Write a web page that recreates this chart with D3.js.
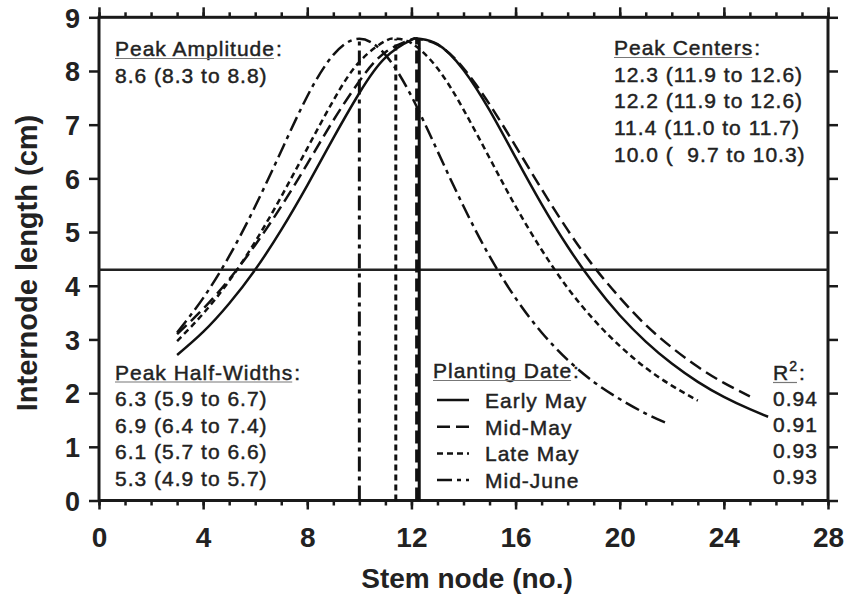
<!DOCTYPE html>
<html lang="en">
  <head>
    <meta charset="UTF-8" />
    <script src="https://cdn.jsdelivr.net/npm/d3@7"></script>
    <title>Internode length by stem node</title>
    <style>
      body { margin: 0; background: #fff; }
      text { font-family: "Liberation Sans", Arial, sans-serif; }
      .note { font-size: 21px; letter-spacing: 1px; fill: #222; stroke: #222; stroke-width: 0.45; white-space: pre; }
      .axis text { font-size: 27px; font-weight: bold; fill: #222; }
      .axis line { stroke: #1a1a1a; stroke-width: 2.5; }
    </style>
  </head>
  <body>
    <svg id="chart" width="856" height="596"></svg>

    <script>
      // series: [stem node, internode length]
      const earlyMay = [[3, 2.71], [4, 3.14], [5, 3.67], [6, 4.3], [7, 5.04], [8, 5.87], [9, 6.75], [10, 7.59],
        [11, 8.25], [12, 8.58], [12.3, 8.6], [13, 8.5], [14, 8.02], [15, 7.27], [16, 6.39], [17, 5.52], [18, 4.73],
        [19, 4.04], [20, 3.45], [21, 2.96], [22, 2.55], [23, 2.21], [24, 1.93], [25, 1.7], [25.7, 1.56]];
      const midMay = [[3, 3.1], [4, 3.57], [5, 4.12], [6, 4.76], [7, 5.48], [8, 6.27], [9, 7.08], [10, 7.81],
        [11, 8.35], [12, 8.59], [12.2, 8.6], [13, 8.49], [14, 8.05], [15, 7.38], [16, 6.6], [17, 5.8], [18, 5.04],
        [19, 4.36], [20, 3.78], [21, 3.27], [22, 2.85], [23, 2.49], [24, 2.19], [25, 1.94]];
      const lateMay = [[3, 2.97], [4, 3.48], [5, 4.09], [6, 4.82], [7, 5.66], [8, 6.56], [9, 7.45], [10, 8.17],
        [11, 8.56], [11.4, 8.6], [12, 8.52], [13, 8.05], [14, 7.28], [15, 6.38], [16, 5.48], [17, 4.67], [18, 3.96],
        [19, 3.37], [20, 2.88], [21, 2.47], [22, 2.14], [23, 1.86]];
      const midJune = [[3, 3.13], [4, 3.77], [5, 4.55], [6, 5.48], [7, 6.51], [8, 7.53], [9, 8.3], [10, 8.6],
        [11, 8.3], [12, 7.53], [13, 6.51], [14, 5.48], [15, 4.55], [16, 3.77], [17, 3.13], [18, 2.62], [19, 2.21],
        [20, 1.89], [21, 1.62], [21.8, 1.44]];

      const plantingDates = ["Early May", "Mid-May", "Late May", "Mid-June"];
      const peakCenters = [12.3, 12.2, 11.4, 10.0];
      const peakAmplitude = 8.6;
      const halfMax = 4.3;
      const centerLabels = ["12.3 (11.9 to 12.6)", "12.2 (11.9 to 12.6)", "11.4 (11.0 to 11.7)", "10.0 (  9.7 to 10.3)"];
      const halfWidthLabels = ["6.3 (5.9 to 6.7)", "6.9 (6.4 to 7.4)", "6.1 (5.7 to 6.6)", "5.3 (4.9 to 5.7)"];
      const amplitudeLabel = "8.6 (8.3 to 8.8)";
      const r2Labels = ["0.94", "0.91", "0.93", "0.93"];
      const xTicks = [0, 4, 8, 12, 16, 20, 24, 28];
      const yTicks = [0, 1, 2, 3, 4, 5, 6, 7, 8, 9];

      const series = [earlyMay, midMay, lateMay, midJune];
      const dashes = [null, "13,6", "6,4", "15,5,4,5"];

      const svg = d3.select("#chart");
      const x = d3.scaleLinear().domain([0, 28]).range([99, 828]);
      const y = d3.scaleLinear().domain([0, 9]).range([500.5, 17.3]);

      // axes
      const gBottom = svg.append("g").attr("class", "axis").attr("transform", `translate(0,${y(0)})`);
      gBottom.call(d3.axisBottom(x).tickValues(d3.range(0, 29)).tickSize(5).tickSizeOuter(0).tickFormat(""));
      gBottom.append("g").call(d3.axisBottom(x).tickValues(xTicks).tickSize(9).tickSizeOuter(0));
      gBottom.selectAll("text").attr("dy", null).attr("y", 46).style("font-size", "28px");

      const gTop = svg.append("g").attr("class", "axis").attr("transform", `translate(0,${y(9)})`);
      gTop.call(d3.axisTop(x).tickValues(d3.range(0, 29)).tickSize(5).tickSizeOuter(0).tickFormat(""));
      gTop.append("g").call(d3.axisTop(x).tickValues(xTicks).tickSize(10).tickSizeOuter(0).tickFormat(""));

      const gLeft = svg.append("g").attr("class", "axis").attr("transform", `translate(${x(0)},0)`);
      gLeft.call(d3.axisLeft(y).tickValues(yTicks).tickSize(10).tickSizeOuter(0));
      gLeft.selectAll("text").attr("x", -19).attr("dy", "0.36em");

      const gRight = svg.append("g").attr("class", "axis").attr("transform", `translate(${x(28)},0)`);
      gRight.call(d3.axisRight(y).tickValues(yTicks).tickSize(10).tickSizeOuter(0).tickFormat(""));

      svg.selectAll(".axis .domain").remove();

      svg.append("rect")
        .attr("x", x(0)).attr("y", y(9))
        .attr("width", x(28) - x(0)).attr("height", y(0) - y(9))
        .attr("fill", "none").attr("stroke", "#1a1a1a").attr("stroke-width", 3);

      // axis titles
      svg.append("text")
        .attr("x", 467).attr("y", 588)
        .attr("text-anchor", "middle")
        .style("font-size", "28px").style("font-weight", "bold").style("fill", "#222")
        .text("Stem node (no.)");
      svg.append("text")
        .attr("transform", "translate(37,263) rotate(-90)")
        .attr("text-anchor", "middle")
        .style("font-size", "29px").style("font-weight", "bold").style("fill", "#222")
        .text("Internode length (cm)");

      // half maximum line
      svg.append("line")
        .attr("x1", x(0)).attr("x2", x(28))
        .attr("y1", y(halfMax)).attr("y2", y(halfMax))
        .attr("stroke", "#222").attr("stroke-width", 2.5);

      // peak center lines
      svg.append("g").selectAll("line")
        .data(peakCenters)
        .enter()
        .append("line")
        .attr("x1", (d) => x(d)).attr("x2", (d) => x(d))
        .attr("y1", y(0)).attr("y2", y(peakAmplitude))
        .attr("stroke", "#111").attr("stroke-width", 3)
        .attr("stroke-dasharray", (d, i) => dashes[i]);

      // fitted curves
      const line = d3.line()
        .x((d) => x(d[0]))
        .y((d) => y(d[1]))
        .curve(d3.curveNatural);

      svg.append("g").selectAll("path")
        .data(series)
        .enter()
        .append("path")
        .attr("d", line)
        .attr("fill", "none")
        .attr("stroke", "#111")
        .attr("stroke-width", 2.5)
        .attr("stroke-dasharray", (d, i) => dashes[i]);

      // annotations
      function header(xp, yp, label, sup) {
        const t = svg.append("text").attr("class", "note").attr("x", xp).attr("y", yp).text(label);
        if (sup) {
          t.append("tspan").attr("dy", -9).style("font-size", "14px").text(sup);
        }
        const w = t.node().getComputedTextLength();
        svg.append("line")
          .attr("x1", xp).attr("x2", xp + w - 1)
          .attr("y1", yp + 2.5).attr("y2", yp + 2.5)
          .attr("stroke", "#777").attr("stroke-width", 1.2);
        svg.append("text").attr("class", "note").attr("x", xp + w + 1).attr("y", yp).text(":");
      }

      header(115, 56, "Peak Amplitude");
      svg.append("text").attr("class", "note").attr("x", 115).attr("y", 83).text(amplitudeLabel);

      header(614, 55, "Peak Centers");
      svg.append("g").selectAll("text")
        .data(centerLabels)
        .enter()
        .append("text")
        .attr("class", "note")
        .attr("x", 614)
        .attr("y", (d, i) => 81.7 + i * 26.7)
        .text((d) => d);

      header(115, 379.5, "Peak Half-Widths");
      svg.append("g").selectAll("text")
        .data(halfWidthLabels)
        .enter()
        .append("text")
        .attr("class", "note")
        .attr("x", 115)
        .attr("y", (d, i) => 406 + i * 26.5)
        .text((d) => d);

      header(433, 378, "Planting Date");
      const legend = svg.append("g").selectAll("g")
        .data(plantingDates)
        .enter()
        .append("g")
        .attr("transform", (d, i) => `translate(0,${408 + i * 26.7})`);
      legend.append("line")
        .attr("x1", 437).attr("x2", 469)
        .attr("y1", -8).attr("y2", -8)
        .attr("stroke", "#111").attr("stroke-width", 2.5)
        .attr("stroke-dasharray", (d, i) => dashes[i]);
      legend.append("text")
        .attr("class", "note")
        .attr("x", 485)
        .text((d) => d);

      header(773, 380, "R", "2");
      svg.append("g").selectAll("text")
        .data(r2Labels)
        .enter()
        .append("text")
        .attr("class", "note")
        .attr("x", 773)
        .attr("y", (d, i) => 406 + i * 26)
        .text((d) => d);
    </script>
  </body>
</html>
